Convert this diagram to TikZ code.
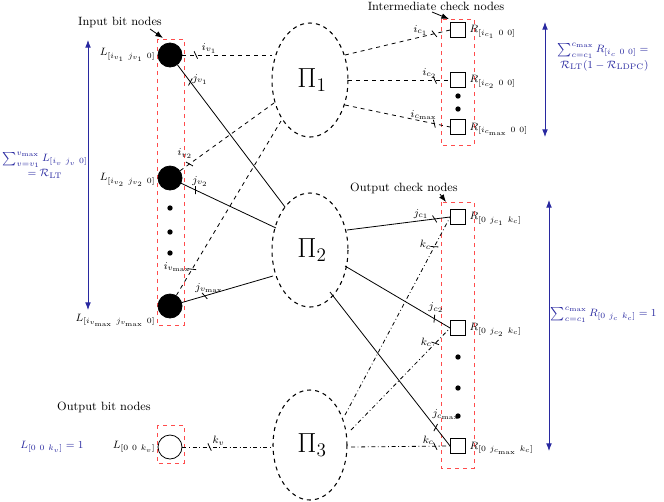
\documentclass[tikz,border=0pt]{standalone}
\usetikzlibrary{arrows.meta}
\begin{document}
\begin{tikzpicture}[x=0.75pt,y=-0.75pt,line width=0.6pt,
 bitn/.style={circle,draw,fill=black,minimum size=24pt*0.75,inner sep=0},
 obit/.style={circle,draw,minimum size=24pt*0.75,inner sep=0},
 chk/.style={draw,minimum size=15*0.75pt,inner sep=0},
 redbox/.style={draw=red!70,dashed},
 dotn/.style={circle,fill=black,inner sep=0,minimum size=4pt},
 lab/.style={font=\footnotesize,inner sep=1pt},
 tk/.style={sloped,draw,solid,inner sep=0,minimum width=0pt,minimum height=6pt,rotate=25},
 blu/.style={color={rgb,255:red,40;green,40;blue,160}},
 barr/.style={blu,{Latex}-{Latex}},
 ttl/.style={font=\small}]
\useasboundingbox (0,0) rectangle (664,501);
% boxes
\draw[redbox] (157,39) rectangle (184,325);
\draw[redbox] (157,425) rectangle (184,463);
\draw[redbox] (441,19) rectangle (474,145);
\draw[redbox] (441,202) rectangle (474,468);
% bit nodes
\node[bitn] (v1) at (170,55) {};
\node[bitn] (v2) at (170,178) {};
\node[bitn] (v3) at (170,306) {};
\node[obit] (vo) at (170,447) {};
\foreach \y/\n in {208/a,232/b,253/c} \node[dotn] (d\n) at (170,\y) {};
% permuters
\draw[dashed,thick] (310,80) ellipse (38 and 57);
\draw[dashed,thick] (310,250) ellipse (38 and 57);
\draw[dashed,thick] (310,445) ellipse (37 and 55);
\node[font=\huge] (p1) at (312,80) {$\Pi_1$};
\node[font=\huge] (p2) at (312,250) {$\Pi_2$};
\node[font=\huge] (p3) at (312,445) {$\Pi_3$};
\coordinate (p1a) at (272,55); \coordinate (p1b) at (274,103); \coordinate (p1c) at (281,121);
\coordinate (p1d) at (345,55); \coordinate (p1e) at (348,80); \coordinate (p1f) at (345,105);
\coordinate (p2a) at (285,207); \coordinate (p2b) at (276,228); \coordinate (p2c) at (273,276);
\coordinate (p2d) at (347,230); \coordinate (p2e) at (345,266); \coordinate (p2f) at (330,292);
\coordinate (p3a) at (273,447); \coordinate (p3b) at (345,415); \coordinate (p3c) at (351,430); \coordinate (p3d) at (351,447);
% check nodes
\node[chk] (c1) at (458,30) {}; \node[chk] (c2) at (458,80) {}; \node[chk] (c3) at (458,127) {};
\node[dotn] (ce1) at (458,96) {}; \node[dotn] (ce2) at (458,109) {};
\node[chk] (o1) at (458,217) {}; \node[chk] (o2) at (458,328) {}; \node[chk] (o3) at (458,446) {};
\foreach \y/\n in {357/a,388/b,416/c} \node[dotn] (oe\n) at (458,\y) {};
% edges input
\draw[dashed] (v1) -- node[tk,pos=0.15]{} node[lab,above,pos=0.3]{$i_{v_1}$} (p1a);
\draw (v1) -- node[tk,pos=0.12]{} node[lab,right,pos=0.1,xshift=2pt]{$j_{v_1}$} (p2a);
\draw[dashed] (v2) -- node[tk,pos=0.1]{} node[lab,above left,pos=0.15]{$i_{v_2}$} (p1b);
\draw (v2) -- node[tk,pos=0.15]{} node[lab,above right,pos=0.1]{$j_{v_2}$} (p2b);
\draw[dashed] (v3) -- node[tk,pos=0.15]{} node[lab,left,pos=0.14,xshift=1pt,yshift=3pt]{$i_{v_{\max}}$} (p1c);
\draw (v3) -- node[tk,pos=0.25]{} node[lab,above,pos=0.3]{$j_{v_{\max}}$} (p2c);
\draw[dash dot] (vo) -- node[tk,pos=0.3]{} node[lab,above,pos=0.4]{$k_v$} (p3a);
% edges to intermediate
\draw[dashed] (p1d) -- node[tk,pos=0.85]{} node[lab,above,pos=0.72]{$i_{c_1}$} (c1.west);
\draw[dashed] (p1e) -- node[tk,pos=0.85]{} node[lab,above,pos=0.8]{$i_{c_2}$} (c2.west);
\draw[dashed] (p1f) -- node[tk,pos=0.85]{} node[lab,above,pos=0.75]{$i_{c_{\max}}$} (c3.west);
% edges to output checks
\draw (p2d) -- node[tk,pos=0.85]{} node[lab,above,pos=0.72]{$j_{c_1}$} (o1.west);
\draw (p2e) -- node[tk,pos=0.85]{} node[lab,above right,pos=0.78]{$j_{c_2}$} (o2.west);
\draw (p2f) -- node[tk,pos=0.88]{} node[lab,above right,pos=0.84]{$j_{c_{\max}}$} (o3.west);
\draw[dash dot] (p3b) -- node[tk,pos=0.85]{} node[lab,left,pos=0.86,xshift=-2pt]{$k_c$} (o1.west);
\draw[dash dot] (p3c) -- node[tk,pos=0.85]{} node[lab,left,pos=0.86,xshift=-2pt]{$k_c$} (o2.west);
\draw[dash dot] (p3d) -- node[tk,pos=0.85]{} node[lab,above,pos=0.78]{$k_c$} (o3.west);
% node labels
\node[lab,left] (l1) at (157,55) {$L_{[i_{v_1}\ j_{v_1}\ 0]}$};
\node[lab,left] (l2) at (157,180) {$L_{[i_{v_2}\ j_{v_2}\ 0]}$};
\node[lab,left] (l3) at (157,320) {$L_{[i_{v_{\max}}\ j_{v_{\max}}\ 0]}$};
\node[lab,left] (l4) at (157,447) {$L_{[0\ 0\ k_v]}$};
\node[lab,right] (r1) at (468,32) {$R_{[i_{c_1}\ 0\ 0]}$};
\node[lab,right] (r2) at (468,82) {$R_{[i_{c_2}\ 0\ 0]}$};
\node[lab,right] (r3) at (468,129) {$R_{[i_{c_{\max}}\ 0\ 0]}$};
\node[lab,right] (s1) at (468,219) {$R_{[0\ j_{c_1}\ k_c]}$};
\node[lab,right] (s2) at (468,330) {$R_{[0\ j_{c_2}\ k_c]}$};
\node[lab,right] (s3) at (468,448) {$R_{[0\ j_{c_{\max}}\ k_c]}$};
% titles
\node[ttl] (t1) at (120,22) {Input bit nodes};
\draw[-{Latex}] (150,29) -- (163,38);
\node[ttl] (t2) at (436,6) {Intermediate check nodes};
\draw[-{Latex}] (432,12) -- (449,19);
\node[ttl] (t3) at (404,188) {Output check nodes};
\draw[-{Latex}] (440,194) -- (446,202);
\node[ttl] (t4) at (104,407) {Output bit nodes};
% blue arrows
\coordinate (b1a) at (88,40); \coordinate (b1b) at (88,310);
\draw[barr] (b1a) -- (b1b);
\node[blu,font=\footnotesize,align=center] (bl1) at (45,165) {$\sum_{v=v_1}^{v_{\max}} L_{[i_v\ j_v\ 0]}$\\$=\mathcal{R}_{\mathrm{LT}}$};
\coordinate (b2a) at (545,22); \coordinate (b2b) at (545,137);
\draw[barr] (b2a) -- (b2b);
\node[blu,font=\footnotesize,align=right] (bl2) at (603,57) {$\sum_{c=c_1}^{c_{\max}} R_{[i_c\ 0\ 0]}=$\\$\mathcal{R}_{\mathrm{LT}}(1-\mathcal{R}_{\mathrm{LDPC}})$};
\coordinate (b3a) at (549,200); \coordinate (b3b) at (549,451);
\draw[barr] (b3a) -- (b3b);
\node[blu,font=\footnotesize,right,inner sep=1pt] (bl3) at (549,315) {$\sum_{c=c_1}^{c_{\max}} R_{[0\ j_c\ k_c]}=1$};
\node[blu,font=\footnotesize] (bl4) at (52,447) {$L_{[0\ 0\ k_v]}=1$};
\end{tikzpicture}
\end{document}
